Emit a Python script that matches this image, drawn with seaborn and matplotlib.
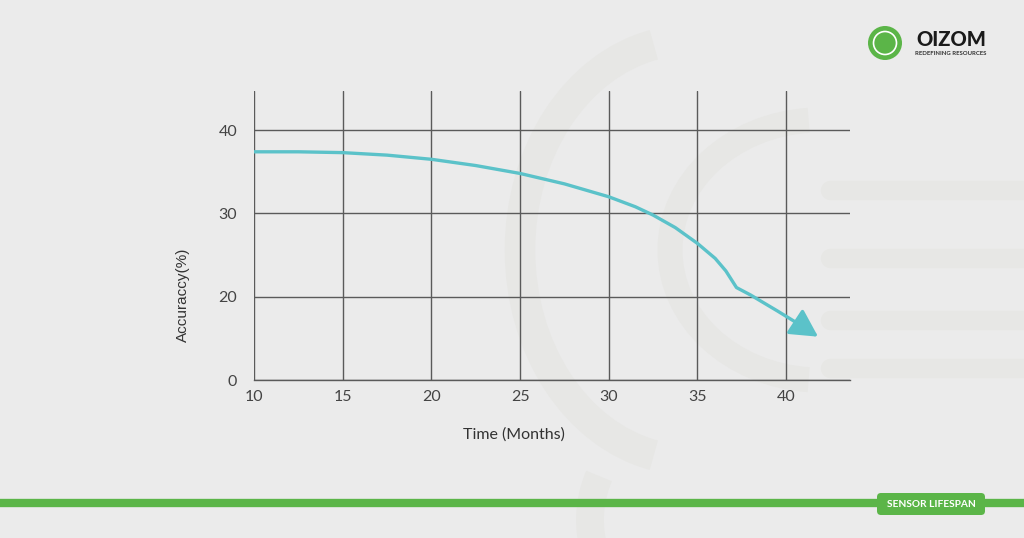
import numpy as np
import matplotlib.pyplot as plt
import seaborn as sns
import pandas as pd
from matplotlib.patches import Arc, FancyBboxPatch, Circle

# values (the "0" tick sits where 10 would be on this axis)
months = [10, 12.5, 15, 17.5, 20, 22.5, 25, 27.5, 30, 31.5, 32.5, 33.75, 35, 36, 36.6, 37.2, 38.0, 39.5, 40.8]
accuracy = [37.4, 37.4, 37.3, 37.0, 36.5, 35.75, 34.8, 33.55, 32.0, 30.8, 29.8, 28.3, 26.4, 24.6, 23.1, 21.1, 20.2, 18.3, 16.6]
arrow_tip = (41.8, 15.2)

x_ticks = [10, 15, 20, 25, 30, 35, 40]
y_ticks = [10, 20, 30, 40]
y_tick_labels = ['0', '20', '30', '40']

bg = '#EBEBEB'
grid_c = '#5a5a5a'
teal = '#5BC2C9'
green = '#5BB548'

sns.set_theme(style='white')
plt.rcParams['font.family'] = ['Lato', 'DejaVu Sans']

fig = plt.figure(figsize=(10.24, 5.38), dpi=100, facecolor=bg)

# faint watermark arcs in the background
wm = fig.add_axes([0, 0, 1, 1], zorder=0)
wm.set_xlim(0, 1024)
wm.set_ylim(538, 0)
wm.axis('off')
wm_c = '#E7E7E5'
wm.add_patch(Arc((690, 250), 340, 420, theta1=100, theta2=260, lw=22, color=wm_c))
wm.add_patch(Arc((820, 250), 300, 260, theta1=95, theta2=265, lw=18, color=wm_c))
wm.add_patch(Arc((720, 520), 260, 240, theta1=95, theta2=200, lw=20, color=wm_c))
for yy in [190, 258, 320, 368]:
    wm.plot([830, 1024], [yy, yy], color=wm_c, lw=14, solid_capstyle='round')

ax = fig.add_axes([254 / 1024, 1 - 380 / 538, (850 - 254) / 1024, (380 - 91) / 538], zorder=1)
ax.set_facecolor('none')

df = pd.DataFrame({'month': months, 'accuracy': accuracy})
sns.lineplot(data=df, x='month', y='accuracy', ax=ax, color=teal, lw=2.4, sort=False)
ax.annotate('', xy=arrow_tip, xytext=(months[-1], accuracy[-1]),
            arrowprops=dict(arrowstyle='-|>,head_length=1.4,head_width=0.75',
                            color=teal, lw=2.4, shrinkA=0, shrinkB=0))

ax.set_xlim(10, 43.6)
ax.set_ylim(10, 44.7)
ax.set_xticks(x_ticks)
ax.set_yticks(y_ticks)
ax.set_yticklabels(y_tick_labels)
ax.grid(True, color=grid_c, lw=1)
for s in ['top', 'right', 'left']:
    ax.spines[s].set_visible(False)
ax.spines['bottom'].set_color(grid_c)
ax.spines['bottom'].set_linewidth(1)
ax.tick_params(axis='y', length=9, width=1, color=grid_c, pad=3, labelsize=11.5, labelcolor='#444444')
ax.tick_params(axis='x', length=0, pad=7, labelsize=11.5, labelcolor='#444444')
ax.set_xlabel('')
ax.set_ylabel('')

fig.text(514 / 1024, 1 - 435 / 538, 'Time (Months)', ha='center', va='center',
         fontsize=11.5, color='#333333')
fig.text(183 / 1024, 1 - 295 / 538, 'Accuraccy(%)', ha='center', va='center',
         rotation=90, fontsize=11, color='#333333', family=['Liberation Sans', 'DejaVu Sans'])

# bottom green band and badge
wm.plot([0, 1024], [503, 503], color=green, lw=6, solid_capstyle='butt')
wm.add_patch(FancyBboxPatch((877, 493), 108, 22, boxstyle='round,pad=0,rounding_size=4',
                            fc=green, ec='none'))
wm.text(931, 504.5, 'SENSOR LIFESPAN', ha='center', va='center', fontsize=7.3,
        color='white', fontweight='bold')

# logo
wm.add_patch(Circle((885, 43), 17, fc=green, ec='none'))
wm.add_patch(Circle((885, 43), 11.5, fc='none', ec='white', lw=1.2))
wm.text(951, 40, 'OIZOM', ha='center', va='center', fontsize=14.5,
        fontweight='black', color='#1a1a1a')
wm.text(951, 53.5, 'REDEFINING RESOURCES', ha='center', va='center', fontsize=4.3,
        fontweight='bold', color='#333333')

fig.savefig('out.png', dpi=100, facecolor=bg)
